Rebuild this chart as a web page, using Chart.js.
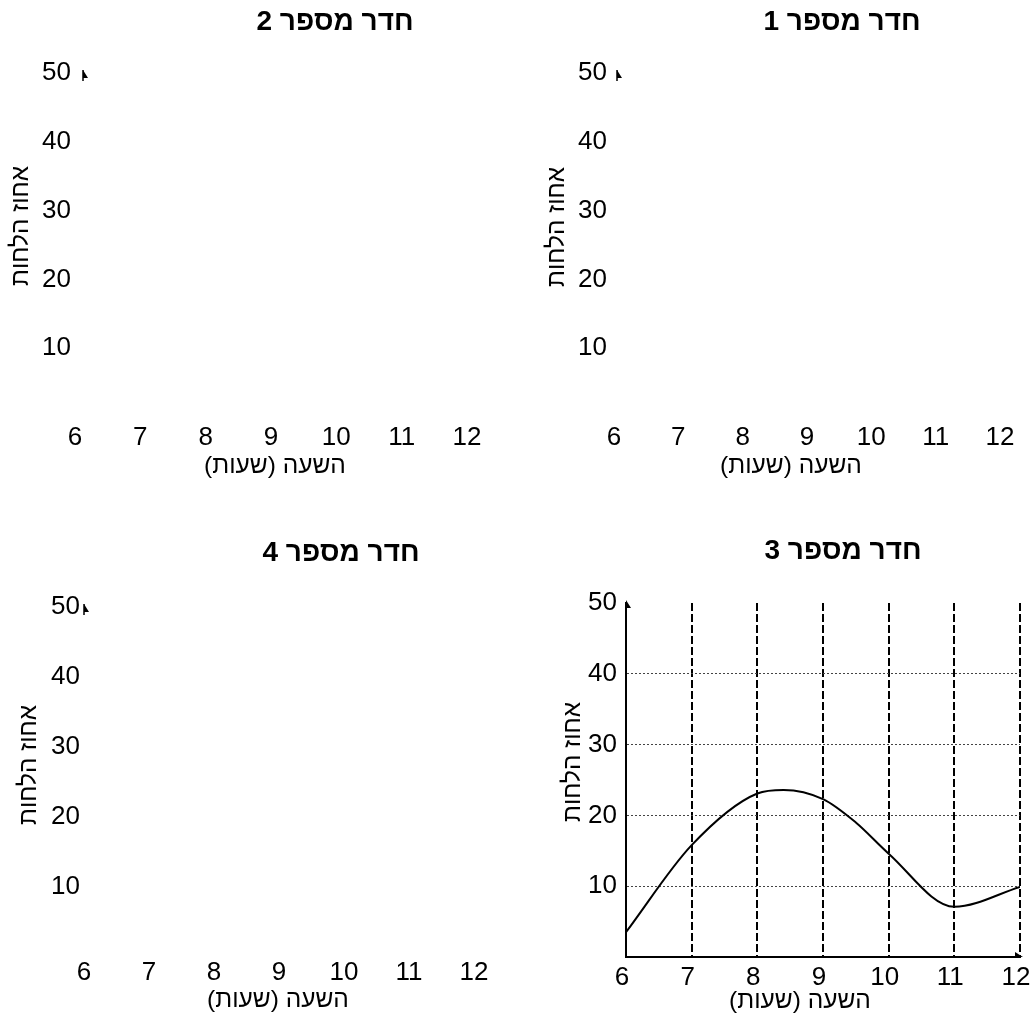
<!DOCTYPE html>
<html>
<head>
<meta charset="utf-8">
<script src="https://cdn.jsdelivr.net/npm/chart.js@4"></script>
<style>
  body { margin: 0; background: #fff; }
  #wrap { position: relative; width: 1031px; height: 1021px; }
  #wrap canvas { position: absolute; left: 0; top: 0; }
</style>
</head>
<body>
<div id="wrap">
  <canvas id="room1" width="1031" height="1021" dir="rtl"></canvas>
  <canvas id="room2" width="1031" height="1021" dir="rtl"></canvas>
  <canvas id="room3" width="1031" height="1021" dir="rtl"></canvas>
  <canvas id="room4" width="1031" height="1021" dir="rtl"></canvas>
</div>
<script>
// data
const hourTicks = [6, 7, 8, 9, 10, 11, 12];
const humidityTicks = [10, 20, 30, 40, 50];
const room3Hours = [6, 7, 8, 8.4, 9, 9.5, 10, 11, 12];
const room3Humidity = [3.5, 15.8, 23.1, 23.6, 22.3, 19.0, 14.6, 7.1, 9.9];
const roomTitles = ['חדר מספר 1', 'חדר מספר 2', 'חדר מספר 3', 'חדר מספר 4'];
const xAxisLabel = 'השעה (שעות)';
const yAxisLabel = 'אחוז הלחות';

const FONT = '"Liberation Sans", Arial, sans-serif';
Chart.defaults.font.family = FONT;
Chart.defaults.color = '#000';

// where each panel sits on the page
const panels = [
  { id: 'room1', L: 614, R: 1000, T: 73, B: 417, yPad: 7, xPad: 5, xShift: 0, title: [842, 22], xTitle: [791, 466], yTitle: [557, 227], arrowDx: 3, grid: false },
  { id: 'room2', L: 75, R: 467, T: 73, B: 417, yPad: 4, xPad: 5, xShift: 0, title: [335, 22], xTitle: [275, 466], yTitle: [21, 226], arrowDx: 8, grid: false },
  { id: 'room3', L: 626, R: 1020, T: 603, B: 957, yPad: 9, xPad: 5, xShift: -4, title: [843, 551], xTitle: [800, 1001], yTitle: [573, 762], arrowDx: 0, grid: true },
  { id: 'room4', L: 84, R: 474, T: 607, B: 957, yPad: 4, xPad: 0, xShift: 0, title: [341, 553], xTitle: [278, 1000], yTitle: [29, 765], arrowDx: 0, grid: false }
];

const Y_W = 60, X_H = 40;

const panelText = {
  id: 'panelText',
  afterDraw(chart, args, o) {
    const ctx = chart.ctx;
    const a = chart.chartArea;
    ctx.save();
    ctx.fillStyle = '#000';
    ctx.strokeStyle = '#000';
    ctx.textAlign = 'center';
    ctx.textBaseline = 'middle';
    ctx.font = 'bold 28px ' + FONT;
    ctx.fillText(o.title, o.titlePos[0], o.titlePos[1]);
    ctx.font = '24.5px ' + FONT;
    ctx.fillText(xAxisLabel, o.xTitlePos[0], o.xTitlePos[1]);

    // little arrow heads
    const ax = a.left + o.arrowDx;
    ctx.beginPath();
    ctx.moveTo(ax, a.top - 3);
    ctx.lineTo(ax + 5, a.top + 5);
    ctx.lineTo(ax, a.top + 5);
    ctx.closePath();
    ctx.fill();
    if (!o.axes) {
      ctx.lineWidth = 1.5;
      ctx.beginPath();
      ctx.moveTo(ax, a.top - 3);
      ctx.lineTo(ax, a.top + 8);
      ctx.stroke();
    } else {
      ctx.beginPath();
      ctx.moveTo(a.right + 3, a.bottom);
      ctx.lineTo(a.right - 5, a.bottom - 5);
      ctx.lineTo(a.right - 5, a.bottom);
      ctx.closePath();
      ctx.fill();
    }

    ctx.translate(o.yTitlePos[0], o.yTitlePos[1]);
    ctx.rotate(-Math.PI / 2);
    ctx.fillText(yAxisLabel, 0, 0);
    ctx.restore();
  }
};

function makeChart(p, i) {
  const datasets = [];
  if (p.id === 'room3') {
    datasets.push({
      data: room3Hours.map((h, k) => ({ x: h, y: room3Humidity[k] })),
      borderColor: '#000',
      borderWidth: 2,
      pointRadius: 0,
      fill: false,
      cubicInterpolationMode: 'monotone'
    });
  }
  return new Chart(document.getElementById(p.id), {
    type: 'line',
    data: { datasets: datasets },
    options: {
      responsive: false,
      animation: false,
      layout: {
        padding: { left: p.L - Y_W, top: p.T, right: 1031 - p.R, bottom: 1021 - p.B - X_H }
      },
      plugins: {
        legend: { display: false },
        tooltip: { enabled: false },
        panelText: {
          title: roomTitles[i], titlePos: p.title, xTitlePos: p.xTitle, yTitlePos: p.yTitle,
          arrowDx: p.arrowDx, axes: p.grid
        }
      },
      scales: {
        x: {
          type: 'linear', min: 6, max: 12,
          afterBuildTicks: s => { s.ticks = hourTicks.map(v => ({ value: v })); },
          afterFit: s => { s.height = X_H; s.paddingLeft = 0; s.paddingRight = 0; },
          ticks: { padding: p.xPad, labelOffset: p.xShift, autoSkip: false, maxRotation: 0, font: { size: 26 } },
          grid: {
            display: p.grid, drawTicks: false, lineWidth: 2,
            color: c => (c.tick && c.tick.value === 6) ? 'rgba(0,0,0,0)' : '#000'
          },
          border: { display: p.grid, width: 2, color: '#000', dash: [8, 3] }
        },
        y: {
          type: 'linear', min: 0, max: 50,
          afterBuildTicks: s => { s.ticks = humidityTicks.map(v => ({ value: v })); },
          afterFit: s => { s.width = Y_W; s.paddingTop = 0; s.paddingBottom = 0; },
          ticks: { padding: p.yPad, font: { size: 26 } },
          grid: {
            display: p.grid, drawTicks: false, lineWidth: 1,
            color: c => (c.tick && c.tick.value === 50) ? 'rgba(0,0,0,0)' : '#444'
          },
          border: { display: p.grid, width: 2, color: '#000', dash: [2, 2] }
        }
      }
    },
    plugins: [panelText]
  });
}

panels.forEach(makeChart);
</script>
</body>
</html>
